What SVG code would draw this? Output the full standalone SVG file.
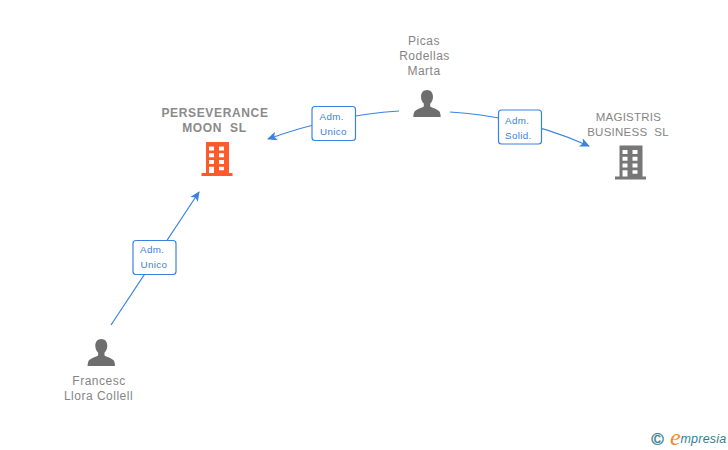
<svg xmlns="http://www.w3.org/2000/svg" width="728" height="450" viewBox="0 0 728 450">
<style>
.n{font-family:"Liberation Sans",Arial,sans-serif;font-size:12px;fill:#858585;text-anchor:middle;letter-spacing:.5px;white-space:pre}
.b{font-weight:bold;letter-spacing:.65px;fill:#8a8a8a}
.m{font-size:11.500px;letter-spacing:.25px}
.c{fill:none;stroke:#3b82e0;stroke-width:1.200}
.lb{fill:#fff;stroke:#3b82e0;stroke-width:1.200}
.lt{font-family:"Liberation Sans",Arial,sans-serif;font-size:9.800px;fill:#3b7fd8;letter-spacing:.35px}
</style>
<defs>
<marker id="a" markerUnits="userSpaceOnUse" markerWidth="12" markerHeight="12" refX="9" refY="5" orient="auto"><path d="M0 0.500L10 5L0 9.500L2.500 5Z" fill="#3b82e0"/></marker>
<g id="person"><path d="M0 -18c-3.600 0-6 2.800-6 6.500 0 3 1 5.500 2.800 7v3c-1.600 1.400-7.500 2.600-9.300 5-.9 1.300-1.200 4-1.200 5.500h27.400c0-1.500-.3-4.200-1.200-5.500-1.800-2.400-7.700-3.600-9.300-5v-3c1.800-1.500 2.800-4 2.800-7 0-3.700-2.400-6.500-6-6.500z"/></g>
<g id="bld"><path fill-rule="evenodd" d="M-15.500 14h31v3h-31zM-11 -17h23v31h-23zM-8 -12.500v4h5v-4zM2 -12.500v4h5v-4zM-8 -5.800v4h5v-4zM2 -5.800v4h5v-4zM-8 1v4h5v-4zM2 1v4h5v-4zM-8 7.700v6.300h5v-6.300zM2 7.700v3.500h5v-3.500z"/></g>
</defs>
<g id="connectors">
<path class="c" d="M399 111Q335 115 268 139" marker-end="url(#a)"/>
<path class="c" d="M450 112Q525 117 589 146" marker-end="url(#a)"/>
<path class="c" d="M111 325L199 192" marker-end="url(#a)"/>
</g>
<g id="label-1"><rect class="lb" x="312" y="106.500" width="43.500" height="34" rx="3"/><text class="lt" x="319.500" y="120">Adm.</text><text class="lt" x="320" y="135">Unico</text></g>
<g id="label-2"><rect class="lb" x="498.500" y="110" width="43" height="34" rx="3"/><text class="lt" x="505" y="123.500">Adm.</text><text class="lt" x="505" y="138.500">Solid.</text></g>
<g id="label-3"><rect class="lb" x="133" y="240.500" width="43" height="34" rx="3"/><text class="lt" x="140" y="253">Adm.</text><text class="lt" x="140.500" y="268">Unico</text></g>
<g id="perseverance"><text class="n b" x="215" y="117">PERSEVERANCE</text><text class="n b" x="214.500" y="132" xml:space="preserve">MOON  SL</text><use href="#bld" x="217" y="159" fill="#ff5a2c"/></g>
<g id="magistris"><text class="n m" x="628.500" y="121">MAGISTRIS</text><text class="n m" x="628" y="136" xml:space="preserve">BUSINESS  SL</text><use href="#bld" x="630.500" y="162.500" fill="#777"/></g>
<g id="picas"><text class="n" x="424" y="45">Picas</text><text class="n" x="424.500" y="60">Rodellas</text><text class="n" x="424" y="75">Marta</text><use href="#person" x="427" y="108" fill="#6e6e6e"/></g>
<g id="francesc"><text class="n" x="99" y="385">Francesc</text><text class="n" x="98.500" y="400">Llora Collell</text><use href="#person" x="101.300" y="357" fill="#6e6e6e"/></g>
<g id="logo"><text x="657.500" y="444.500" font-family="'Liberation Sans',sans-serif" font-size="17" fill="#3d7f93" stroke="#3d7f93" stroke-width=".4" text-anchor="middle">©</text><text x="670" y="445" font-family="'Liberation Serif',serif" font-style="italic" font-size="24" fill="#f08a24">e</text><text x="680.500" y="443" font-family="'Liberation Sans',sans-serif" font-style="italic" font-size="12.500" letter-spacing=".2" fill="#2f7f94">mpresia</text></g>
</svg>
